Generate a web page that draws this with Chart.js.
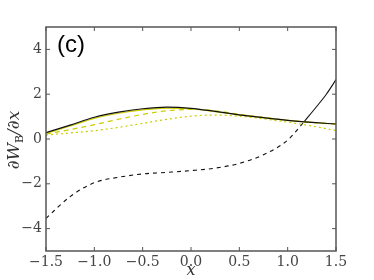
<!DOCTYPE html>
<html>
<head>
<meta charset="utf-8">
<script src="https://cdn.jsdelivr.net/npm/chart.js@4.4.1/dist/chart.umd.min.js"></script>
<style>
  html, body { margin: 0; padding: 0; background: #fff; }
  #wrap { width: 374px; height: 280px; }
</style>
</head>
<body>
<div id="wrap"><canvas id="myChart" width="374" height="280"></canvas></div>
<script>
// x grid for the upper branch and yellow curves
const xs = [-1.5, -1.25, -1.0, -0.75, -0.5, -0.25, 0.0, 0.25, 0.5, 0.75, 1.0, 1.25, 1.5];
const upperBlack = [0.28, 0.62, 0.97, 1.2, 1.35, 1.42, 1.37, 1.23, 1.08, 0.95, 0.83, 0.74, 0.67];
const yellowSolid = [0.25, 0.58, 0.92, 1.15, 1.3, 1.38, 1.35, 1.22, 1.07, 0.95, 0.83, 0.74, 0.67];
const yellowDashed = [0.22, 0.42, 0.64, 0.88, 1.1, 1.26, 1.32, 1.26, 1.1, 0.96, 0.83, 0.74, 0.66];
const yellowDotted = [0.18, 0.27, 0.37, 0.52, 0.7, 0.88, 1.02, 1.07, 1.02, 0.9, 0.75, 0.58, 0.38];

// lower branch: dashed part then solid part
const xsLowDash = [-1.5, -1.25, -1.0, -0.75, -0.5, -0.25, 0.0, 0.25, 0.5, 0.75, 1.0, 1.17];
const lowerDashed = [-3.54, -2.57, -1.95, -1.71, -1.56, -1.49, -1.41, -1.3, -1.09, -0.7, -0.05, 0.77];
const xsLowSolid = [1.17, 1.3, 1.4, 1.5];
const lowerSolid = [0.77, 1.45, 2.0, 2.65];

const xTicks = [-1.5, -1.0, -0.5, 0.0, 0.5, 1.0, 1.5];
const yTicks = [-4, -2, 0, 2, 4];

const yellow = 'rgb(204,204,0)';

function pts(x, y) {
  return x.map(function (v, i) { return { x: v, y: y[i] }; });
}

function fmt(v, digits) {
  let s = Math.abs(v).toFixed(digits);
  return (v < 0 ? '\u2212' : '') + s;
}

// frame, inward ticks, y title, panel label
const decor = {
  id: 'decor',
  afterDraw(chart) {
    const c = chart.ctx;
    const a = chart.chartArea;
    const sx = chart.scales.x, sy = chart.scales.y;
    c.save();
    c.strokeStyle = '#555';
    c.lineWidth = 1.5;
    c.strokeRect(a.left, a.top, a.right - a.left, a.bottom - a.top);
    c.lineWidth = 1;
    c.beginPath();
    xTicks.forEach(function (t) {
      const p = sx.getPixelForValue(t);
      c.moveTo(p, a.bottom); c.lineTo(p, a.bottom - 4);
      c.moveTo(p, a.top); c.lineTo(p, a.top + 4);
    });
    yTicks.forEach(function (t) {
      const p = sy.getPixelForValue(t);
      c.moveTo(a.left, p); c.lineTo(a.left + 4, p);
      c.moveTo(a.right, p); c.lineTo(a.right - 4, p);
    });
    c.stroke();

    // y axis title  dW_B/dx
    c.translate(15, 140);
    c.rotate(-Math.PI / 2);
    c.fillStyle = '#333';
    c.textBaseline = 'middle';
    const big = 'italic 17px "DejaVu Serif"';
    const small = '11px "DejaVu Serif"';
    const parts = [
      { t: '\u2202W', f: big, dy: 0 },
      { t: 'B', f: small, dy: 5 },
      { t: '/\u2202x', f: big, dy: 0 }
    ];
    let w = 0;
    parts.forEach(function (p) { c.font = p.f; w += c.measureText(p.t).width; });
    let x0 = -w / 2;
    parts.forEach(function (p) {
      c.font = p.f;
      c.fillText(p.t, x0, p.dy);
      x0 += c.measureText(p.t).width;
    });
    c.restore();

    c.save();
    c.fillStyle = '#000';
    c.font = '24px "Liberation Sans"';
    c.textBaseline = 'alphabetic';
    c.fillText('(c)', 57, 52);
    c.restore();
  }
};

const ctx = document.getElementById('myChart');

new Chart(ctx, {
  type: 'scatter',
  data: {
    datasets: [
      { data: pts(xs, upperBlack), borderColor: '#111', borderWidth: 1.2 },
      { data: pts(xs, yellowSolid), borderColor: yellow, borderWidth: 1.2 },
      { data: pts(xs, yellowDashed), borderColor: yellow, borderWidth: 1.2, borderDash: [5, 4] },
      { data: pts(xs, yellowDotted), borderColor: yellow, borderWidth: 1.2, borderDash: [2, 3] },
      { data: pts(xsLowDash, lowerDashed), borderColor: '#111', borderWidth: 1.1, borderDash: [4, 4] },
      { data: pts(xsLowSolid, lowerSolid), borderColor: '#111', borderWidth: 1.1 }
    ].map(function (d) {
      d.showLine = true;
      d.pointRadius = 0;
      d.cubicInterpolationMode = 'monotone';
      return d;
    })
  },
  options: {
    responsive: false,
    animation: false,
    layout: { padding: { top: 27, right: 38, left: 0, bottom: 0 } },
    plugins: { legend: { display: false }, tooltip: { enabled: false } },
    scales: {
      x: {
        type: 'linear',
        min: -1.5,
        max: 1.5,
        afterBuildTicks: function (s) { s.ticks = xTicks.map(function (v) { return { value: v }; }); },
        afterFit: function (s) { s.height = 29; },
        grid: { display: false, drawTicks: false },
        border: { display: false },
        ticks: {
          padding: 3,
          color: '#444',
          font: { family: '"DejaVu Serif"', size: 14 },
          maxRotation: 0,
          callback: function (v) { return fmt(v, 1); }
        },
        title: {
          display: true,
          text: 'x',
          color: '#333',
          padding: { top: 0, bottom: 0 },
          font: { family: '"DejaVu Serif"', size: 16, style: 'italic' }
        }
      },
      y: {
        min: -5,
        max: 5,
        afterBuildTicks: function (s) { s.ticks = yTicks.map(function (v) { return { value: v }; }); },
        afterFit: function (s) { s.width = 46; },
        grid: { display: false, drawTicks: false },
        border: { display: false },
        ticks: {
          padding: 4,
          color: '#444',
          font: { family: '"DejaVu Serif"', size: 14 },
          callback: function (v) { return fmt(v, 0); }
        }
      }
    }
  },
  plugins: [decor]
});
</script>
</body>
</html>
